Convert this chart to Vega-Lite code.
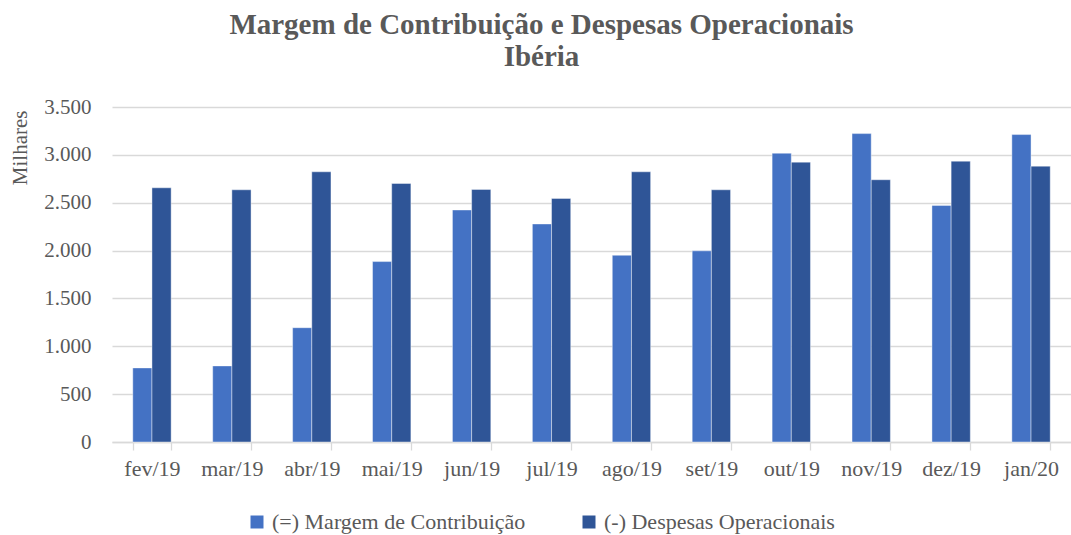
{
  "$schema": "https://vega.github.io/schema/vega-lite/v6.json",
  "width": 959,
  "height": 335,
  "autosize": {"type": "none"},
  "padding": {"left": 112, "top": 107, "right": 0, "bottom": 93},
  "background": "white",
  "title": {
    "text": ["Margem de Contribuição e Despesas Operacionais", "Ibéria"],
    "font": "Liberation Serif",
    "fontSize": 29,
    "fontWeight": "bold",
    "color": "#595959",
    "anchor": "middle",
    "dx": -50,
    "offset": 24,
    "lineHeight": 32
  },
  "config": {
    "locale": {"number": {"decimal": ",", "thousands": ".", "grouping": [3], "currency": ["R$", ""]}},
    "view": {"stroke": null},
    "font": "Liberation Serif"
  },
  "data": {
    "values": [
      {"mes": "fev/19", "serie": "(=) Margem de Contribuição", "valor": 774},
      {"mes": "fev/19", "serie": "(-) Despesas Operacionais", "valor": 2656},
      {"mes": "mar/19", "serie": "(=) Margem de Contribuição", "valor": 795},
      {"mes": "mar/19", "serie": "(-) Despesas Operacionais", "valor": 2635},
      {"mes": "abr/19", "serie": "(=) Margem de Contribuição", "valor": 1194},
      {"mes": "abr/19", "serie": "(-) Despesas Operacionais", "valor": 2823},
      {"mes": "mai/19", "serie": "(=) Margem de Contribuição", "valor": 1885},
      {"mes": "mai/19", "serie": "(-) Despesas Operacionais", "valor": 2701},
      {"mes": "jun/19", "serie": "(=) Margem de Contribuição", "valor": 2424},
      {"mes": "jun/19", "serie": "(-) Despesas Operacionais", "valor": 2639},
      {"mes": "jul/19", "serie": "(=) Margem de Contribuição", "valor": 2278},
      {"mes": "jul/19", "serie": "(-) Despesas Operacionais", "valor": 2545},
      {"mes": "ago/19", "serie": "(=) Margem de Contribuição", "valor": 1951},
      {"mes": "ago/19", "serie": "(-) Despesas Operacionais", "valor": 2823},
      {"mes": "set/19", "serie": "(=) Margem de Contribuição", "valor": 1997},
      {"mes": "set/19", "serie": "(-) Despesas Operacionais", "valor": 2635},
      {"mes": "out/19", "serie": "(=) Margem de Contribuição", "valor": 3017},
      {"mes": "out/19", "serie": "(-) Despesas Operacionais", "valor": 2924},
      {"mes": "nov/19", "serie": "(=) Margem de Contribuição", "valor": 3222},
      {"mes": "nov/19", "serie": "(-) Despesas Operacionais", "valor": 2740},
      {"mes": "dez/19", "serie": "(=) Margem de Contribuição", "valor": 2472},
      {"mes": "dez/19", "serie": "(-) Despesas Operacionais", "valor": 2934},
      {"mes": "jan/20", "serie": "(=) Margem de Contribuição", "valor": 3212},
      {"mes": "jan/20", "serie": "(-) Despesas Operacionais", "valor": 2882}
    ]
  },
  "mark": {"type": "bar", "stroke": "#ffffff", "strokeWidth": 0.7, "strokeOpacity": 0.6},
  "encoding": {
    "x": {
      "field": "mes",
      "type": "nominal",
      "sort": null,
      "scale": {"paddingInner": 0.52, "paddingOuter": 0.26},
      "axis": {
        "title": null,
        "labelAngle": 0,
        "labelFontSize": 22,
        "labelColor": "#595959",
        "labelPadding": 8,
        "tickBand": "extent",
        "tickColor": "#d9d9d9",
        "tickWidth": 1.3,
        "tickSize": 8,
        "domainColor": "#d9d9d9",
        "domainWidth": 1.3,
        "grid": false
      }
    },
    "xOffset": {
      "field": "serie",
      "type": "nominal",
      "sort": ["(=) Margem de Contribuição", "(-) Despesas Operacionais"],
      "scale": {"paddingInner": 0, "paddingOuter": 0}
    },
    "y": {
      "field": "valor",
      "type": "quantitative",
      "scale": {"domain": [0, 3500], "nice": false},
      "axis": {
        "values": [0, 500, 1000, 1500, 2000, 2500, 3000, 3500],
        "format": ",d",
        "grid": true,
        "gridColor": "#d9d9d9",
        "gridWidth": 1.3,
        "domain": false,
        "ticks": false,
        "tickSize": 0,
        "labelPadding": 21,
        "labelFontSize": 21,
        "labelColor": "#595959",
        "title": "Milhares",
        "titleFontSize": 21,
        "titleFontWeight": "normal",
        "titleColor": "#595959",
        "titleAngle": 270,
        "titleAlign": "right",
        "titleBaseline": "middle",
        "titleX": -92,
        "titleY": 3
      }
    },
    "color": {
      "field": "serie",
      "type": "nominal",
      "scale": {
        "domain": ["(=) Margem de Contribuição", "(-) Despesas Operacionais"],
        "range": ["#4472C4", "#2F5597"]
      },
      "legend": {
        "orient": "none",
        "legendX": 134,
        "legendY": 404,
        "direction": "horizontal",
        "title": null,
        "symbolType": "square",
        "symbolSize": 169,
        "symbolStrokeWidth": 0,
        "labelFontSize": 22,
        "labelLimit": 0,
        "labelColor": "#595959",
        "labelOffset": 4,
        "columnPadding": 52
      }
    }
  }
}
